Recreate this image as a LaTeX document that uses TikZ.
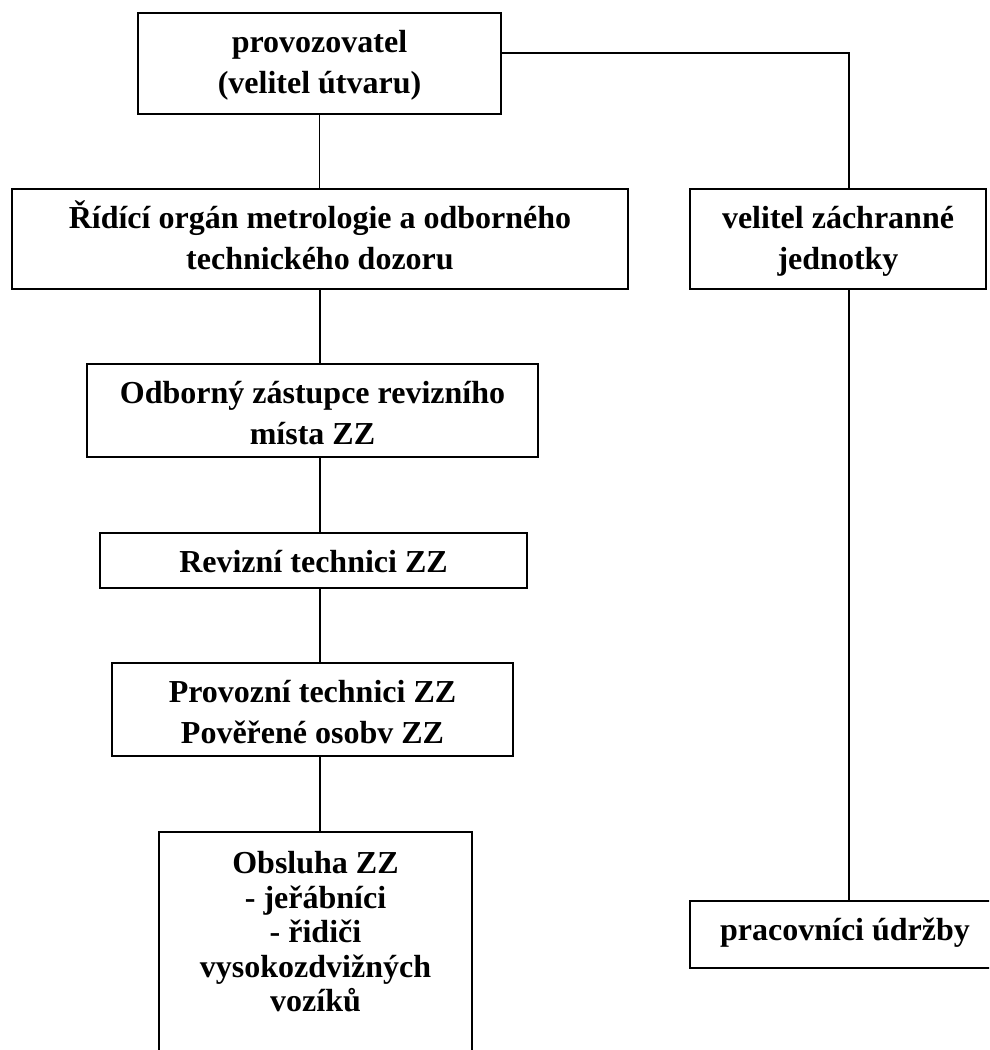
\documentclass[tikz,border=0pt]{standalone}
\usepackage{fontspec}
\setmainfont{Liberation Serif}
\begin{document}
\begin{tikzpicture}[x=1pt,y=-1pt,line width=1.5pt,
  box/.style={draw,align=center,anchor=north,inner xsep=0pt,inner ysep=10.5pt,
    font=\bfseries\fontsize{32}{41.5}\selectfont},
  one/.style={text height=29pt},
  two/.style={text height=70.5pt}]
\clip (0,0) rectangle (989,1050);
% levy sloupec
\node[box,two,minimum width=363pt,text depth=9.5pt] (prov) at (319.5,12) {provozovatel\\(velitel útvaru)};
\node[box,two,minimum width=616pt,text depth=8.5pt] (ridici) at (320,188) {Řídící orgán metrologie a odborného\\technického dozoru};
\node[box,two,minimum width=451pt,text depth=1.5pt] (odborny) at (312.5,363) {Odborný zástupce revizního\\místa ZZ};
\node[box,one,minimum width=427pt,text depth=5pt] (revizni) at (313.5,532) {Revizní technici ZZ};
\node[box,two,minimum width=401pt,text depth=1.5pt] (provozni) at (312.5,662) {Provozní technici ZZ\\Pověřené osobv ZZ};
\node[box,minimum width=313pt,inner ysep=18pt,text height=162pt,text depth=100pt,
  font=\bfseries\fontsize{32}{34.5}\selectfont] (obsluha) at (315.5,831) {Obsluha ZZ\\- jeřábníci\\- řidiči\\vysokozdvižných\\vozíků};
% pravy sloupec
\node[box,two,minimum width=296pt,text depth=8.5pt] (velitel) at (838,188) {velitel záchranné\\jednotky};
\node[box,one,minimum width=310pt,text depth=17pt] (udrzba) at (845,900) {pracovníci údržby};
\coordinate (odbocka) at (849,53);
% spoje
\draw (prov.south) -- (prov.south |- ridici.north);
\draw (ridici.south) -- (ridici.south |- odborny.north);
\draw (ridici.south |- odborny.south) -- (ridici.south |- revizni.north);
\draw (ridici.south |- revizni.south) -- (ridici.south |- provozni.north);
\draw (ridici.south |- provozni.south) -- (ridici.south |- obsluha.north);
\draw (prov.east |- odbocka) -- (odbocka) -- (odbocka |- velitel.north);
\draw (odbocka |- velitel.south) -- (odbocka |- udrzba.north);
\end{tikzpicture}
\end{document}
